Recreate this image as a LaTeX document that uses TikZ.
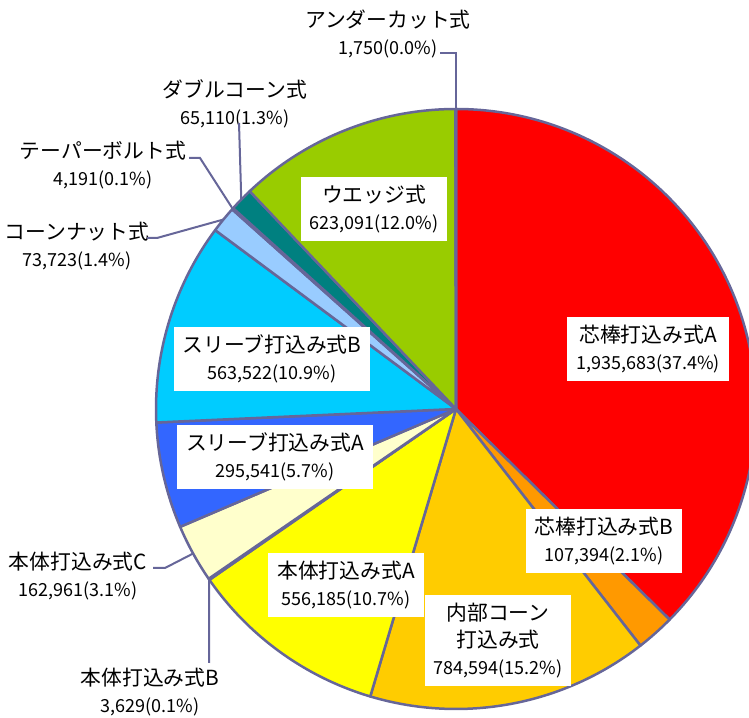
\documentclass[tikz,border=0pt]{standalone}
\usepackage{fontspec}
\setmainfont{Noto Sans CJK JP}
\usepackage{tikz,xcolor}
\usetikzlibrary{positioning}
\definecolor{coreA}{RGB}{255,0,0}
\definecolor{coreB}{RGB}{255,153,0}
\definecolor{innercone}{RGB}{255,204,0}
\definecolor{bodyA}{RGB}{255,255,0}
\definecolor{bodyB}{RGB}{255,255,153}
\definecolor{bodyC}{RGB}{255,255,204}
\definecolor{sleeveA}{RGB}{51,102,255}
\definecolor{sleeveB}{RGB}{0,204,255}
\definecolor{conenut}{RGB}{153,204,255}
\definecolor{taperbolt}{RGB}{204,255,255}
\definecolor{doublecone}{RGB}{0,128,128}
\definecolor{wedgetype}{RGB}{153,204,0}
\definecolor{undercut}{RGB}{255,128,128}
\definecolor{rim}{RGB}{102,102,153}
\newcommand{\numsz}{\fontsize{9}{13.5}\selectfont}
\tikzstyle{slice} = [draw=rim, line width=1.25pt, line join=round]
\tikzstyle{tag} = [fill=white, align=center, inner xsep=4.5pt, inner ysep=4pt, font=\fontsize{10.4}{13.5}\selectfont]
\tikzstyle{outlbl} = [align=center, inner sep=0pt, font=\fontsize{10.4}{13.5}\selectfont]
\tikzstyle{leader} = [draw=rim, line width=1pt]

\begin{document}
\begin{tikzpicture}[x=0.5pt, y=0.5pt]
\useasboundingbox (0,0) rectangle (749,717);
\coordinate (ctr) at (456,308);
% slices, clockwise from the top
\filldraw[slice, fill=coreA] (ctr) -- ++(90:300) arc[start angle=90, end angle=-44.59, radius=300] -- cycle;
\filldraw[slice, fill=coreB] (ctr) -- ++(-44.59:300) arc[start angle=-44.59, end angle=-52.06, radius=300] -- cycle;
\filldraw[slice, fill=innercone] (ctr) -- ++(-52.06:300) arc[start angle=-52.06, end angle=-106.61, radius=300] -- cycle;
\filldraw[slice, fill=bodyA] (ctr) -- ++(-106.61:300) arc[start angle=-106.61, end angle=-145.29, radius=300] -- cycle;
\filldraw[slice, fill=bodyB] (ctr) -- ++(-145.29:300) arc[start angle=-145.29, end angle=-145.54, radius=300] -- cycle;
\filldraw[slice, fill=bodyC] (ctr) -- ++(-145.54:300) arc[start angle=-145.54, end angle=-156.87, radius=300] -- cycle;
\filldraw[slice, fill=sleeveA] (ctr) -- ++(-156.87:300) arc[start angle=-156.87, end angle=-177.42, radius=300] -- cycle;
\filldraw[slice, fill=sleeveB] (ctr) -- ++(-177.42:300) arc[start angle=-177.42, end angle=-216.60, radius=300] -- cycle;
\filldraw[slice, fill=conenut] (ctr) -- ++(-216.60:300) arc[start angle=-216.60, end angle=-221.73, radius=300] -- cycle;
\filldraw[slice, fill=taperbolt] (ctr) -- ++(-221.73:300) arc[start angle=-221.73, end angle=-222.02, radius=300] -- cycle;
\filldraw[slice, fill=doublecone] (ctr) -- ++(-222.02:300) arc[start angle=-222.02, end angle=-226.55, radius=300] -- cycle;
\filldraw[slice, fill=wedgetype] (ctr) -- ++(-226.55:300) arc[start angle=-226.55, end angle=-269.88, radius=300] -- cycle;
\filldraw[slice, fill=undercut] (ctr) -- ++(-269.88:300) arc[start angle=-269.88, end angle=-270, radius=300] -- cycle;

% labels inside the pie
\node[tag] (lbl-coreA) at (648,368) {芯棒打込み式A\\{\numsz 1,935,683(37.4\%)}};
\node[tag] (lbl-coreB) at (604,176) {芯棒打込み式B\\{\numsz 107,394(2.1\%)}};
\node[tag] (lbl-inner) at (498,76) {内部コーン\\打込み式\\{\numsz 784,594(15.2\%)}};
\node[tag] (lbl-bodyA) at (346,132) {本体打込み式A\\{\numsz 556,185(10.7\%)}};
\node[tag] (lbl-sleeveA) at (275,260) {スリーブ打込み式A\\{\numsz 295,541(5.7\%)}};
\node[tag] (lbl-sleeveB) at (272,358) {スリーブ打込み式B\\{\numsz 563,522(10.9\%)}};
\node[tag] (lbl-wedge) at (374,508) {ウエッジ式\\{\numsz 623,091(12.0\%)}};

% labels outside, with leader lines
\node[outlbl] (lbl-under) at (388,683) {アンダーカット式\\{\numsz 1,750(0.0\%)}};
\node[outlbl] (lbl-double) at (235,613) {ダブルコーン式\\{\numsz 65,110(1.3\%)}};
\node[outlbl] (lbl-taper) at (103,552) {テーパーボルト式\\{\numsz 4,191(0.1\%)}};
\node[outlbl] (lbl-conenut) at (77,471) {コーンナット式\\{\numsz 73,723(1.4\%)}};
\node[outlbl] (lbl-bodyC) at (78,141) {本体打込み式C\\{\numsz 162,961(3.1\%)}};
\node[outlbl] (lbl-bodyB) at (150,25) {本体打込み式B\\{\numsz 3,629(0.1\%)}};

\path (ctr) ++(90.06:300) coordinate (under-p);
\path (ctr) ++(135.71:300) coordinate (double-p);
\path (ctr) ++(138.12:300) coordinate (taper-p);
\path (ctr) ++(140.83:300) coordinate (conenut-p);
\path (ctr) ++(208.8:300) coordinate (bodyC-p);
\path (ctr) ++(214.59:300) coordinate (bodyB-p);
\coordinate (under-a) at (440,664);
\coordinate (double-a) at (239,594);
\coordinate (taper-a) at (189,559);
\coordinate (conenut-a) at (147,479);
\coordinate (bodyC-a) at (153,149);
\coordinate (bodyB-a) at (209,54);

\draw[leader] (under-a) -| (under-p);
\draw[leader] (double-a) -- (double-p);
\draw[leader] (taper-a) -- ++(11,0) -- (taper-p);
\draw[leader] (conenut-a) -- ++(10,0) -- (conenut-p);
\draw[leader] (bodyC-a) -- ++(12,0) -- (bodyC-p);
\draw[leader] (bodyB-a) -- (bodyB-p);
\end{tikzpicture}
\end{document}
